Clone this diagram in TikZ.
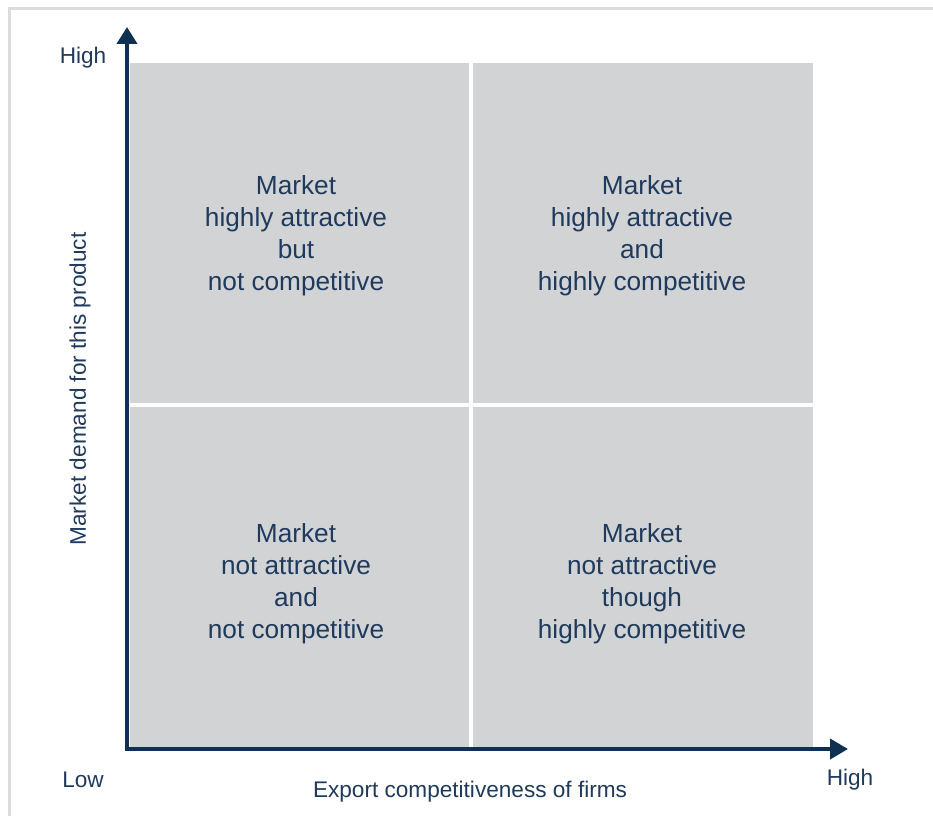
\documentclass[tikz,border=0pt]{standalone}
\usepackage{fontspec}
\setmainfont{Liberation Sans}
\usetikzlibrary{arrows.meta}
\definecolor{navy}{HTML}{0E3052}
\definecolor{txt}{HTML}{1F3A5C}
\definecolor{cellgray}{HTML}{D2D3D5}
\definecolor{framegray}{HTML}{DCDCDC}
\tikzset{
  cell/.style={fill=cellgray, draw=none, inner sep=0pt, outer sep=0pt},
  celltext/.style={text=txt, align=center, inner sep=0pt, font=\fontsize{26.2}{32}\selectfont},
  axislabel/.style={text=txt, inner sep=0pt, font=\fontsize{22.6}{27}\selectfont},
  axis/.style={draw=navy, line width=4pt, line join=miter},
  frameline/.style={draw=framegray, line width=3pt}
}
\begin{document}
\begin{tikzpicture}[x=1pt,y=-1pt]
\useasboundingbox (0,0) rectangle (933,816);
% frame
\draw[frameline] (9,816) -- (9,9) -- (933,9);
% cells
\fill[cell] (130,63) rectangle (469,403);
\fill[cell] (473,63) rectangle (813,403);
\fill[cell] (130,407) rectangle (469,747);
\fill[cell] (473,407) rectangle (813,747);
% cell texts
\node[celltext] (tl) at (296,235.5) {Market\\highly attractive\\but\\not competitive};
\node[celltext] (tr) at (642,235.5) {Market\\highly attractive\\and\\highly competitive};
\node[celltext] (bl) at (296,583.5) {Market\\not attractive\\and\\not competitive};
\node[celltext] (br) at (642,583.5) {Market\\not attractive\\though\\highly competitive};
% axes
\coordinate (o) at (127,749);
\coordinate (ytip) at (127,27);
\coordinate (xtip) at (848,749);
\draw[axis, {Triangle[length=17pt,width=20pt]}-{Triangle[length=18pt,width=20pt]}] (ytip) -- (o) -- (xtip);
% axis labels
\node[axislabel] (yhigh) at (83,58) {High};
\node[axislabel] (xlow) at (83,780) {Low};
\node[axislabel] (xhigh) at (850,780) {High};
\node[axislabel, rotate=90] (ylab) at (80,389) {Market demand for this product};
\node[axislabel] (xlab) at (470,792) {Export competitiveness of firms};
\end{tikzpicture}
\end{document}
